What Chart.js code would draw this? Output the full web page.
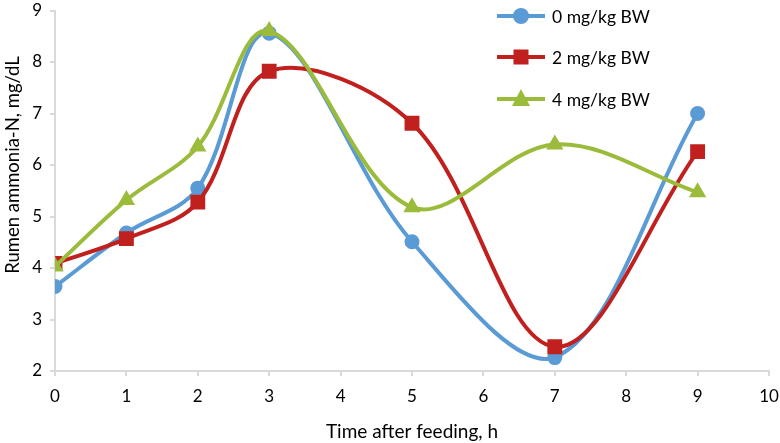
<!DOCTYPE html>
<html><head><meta charset="utf-8">
<script src="https://cdn.jsdelivr.net/npm/chart.js@4/dist/chart.umd.min.js"></script>
<style>html,body{margin:0;padding:0;background:#fff}#w{width:780px;height:443px}</style>
</head><body><div id="w"><canvas id="c" width="780" height="443"></canvas></div>
<script>
const hours = [0, 1, 2, 3, 5, 7, 9];
const dose0 = [3.64, 4.68, 5.55, 8.56, 4.51, 2.26, 7.0];
const dose2 = [4.09, 4.57, 5.28, 7.82, 6.81, 2.47, 6.26];
const dose4 = [4.03, 5.32, 6.36, 8.6, 5.18, 6.4, 5.47];
const seriesNames = ['0 mg/kg BW', '2 mg/kg BW', '4 mg/kg BW'];
const yTitle = 'Rumen ammonia-N, mg/dL';
const xTitle = 'Time after feeding, h';
const FONT = 'Lato';
const colors = ['#5B9BD5', '#C0201E', '#9BBB3B'];
const styles = ['circle', 'rect', 'triangle'];
const radii = [7.5, 10.5, 10];

function pts(ys){ return hours.map((h,i)=>({x:h,y:ys[i]})); }
const sets = [dose0, dose2, dose4].map((d,i)=>({
  label: seriesNames[i], data: pts(d), borderColor: colors[i], backgroundColor: colors[i],
  borderWidth: 4, pointStyle: styles[i], pointRadius: radii[i], pointBorderWidth: 0,
  pointBackgroundColor: colors[i], tension: 0.35, fill: false, order: 3 - i
}));

const legendPlugin = {
  id: 'customLegend',
  afterDraw(chart){
    const ctx = chart.ctx;
    const x0 = 497, x1 = 545, ys = [16, 57, 99];
    ctx.save();
    sets.forEach((s,i)=>{
      const y = ys[i];
      ctx.strokeStyle = s.borderColor; ctx.lineWidth = 4; ctx.lineCap='butt';
      ctx.beginPath(); ctx.moveTo(x0,y); ctx.lineTo(x1,y); ctx.stroke();
      ctx.fillStyle = s.borderColor;
      const cx = (x0+x1)/2;
      if (styles[i]==='circle'){ ctx.beginPath(); ctx.arc(cx,y,8,0,Math.PI*2); ctx.fill(); }
      else if (styles[i]==='rect'){ ctx.fillRect(cx-7.5,y-7.5,15,15); }
      else { ctx.beginPath(); ctx.moveTo(cx,y-10); ctx.lineTo(cx+9,y+7); ctx.lineTo(cx-9,y+7); ctx.closePath(); ctx.fill(); }
      ctx.fillStyle = '#000'; ctx.font = '17.5px ' + FONT; ctx.textBaseline='middle'; ctx.textAlign='left';
      ctx.fillText(s.label, 552, y+1);
    });
    ctx.translate(13, 165);
    ctx.rotate(-Math.PI/2);
    ctx.fillStyle = '#000'; ctx.font = '18.5px ' + FONT; ctx.textAlign='center'; ctx.textBaseline='middle';
    ctx.fillText(yTitle, 0, 0);
    ctx.restore();
  }
};

new Chart(document.getElementById('c'), {
  type: 'line',
  data: { datasets: sets },
  options: {
    responsive: false, animation: false,
    layout: { padding: { left: 0, right: 11, top: 8, bottom: 0 } },
    plugins: { legend: { display: false }, tooltip: { enabled: false } },
    scales: {
      x: {
        type: 'linear', min: 0, max: 10,
        afterFit(s){ s.height = 72; s.paddingLeft = 0; s.paddingRight = 0; },
        ticks: { stepSize: 1, color: '#000', font: { family: FONT, size: 17 }, padding: 10 },
        grid: { display: true, drawOnChartArea: false, drawTicks: true, tickLength: 5, color: '#D9D9D9', lineWidth: 2 },
        border: { color: '#D9D9D9', width: 2 },
        title: { display: true, text: xTitle, color: '#000', font: { family: FONT, size: 19 }, padding: { top: 8, bottom: 0 } }
      },
      y: {
        min: 2, max: 9,
        afterFit(s){ s.width = 55; s.paddingTop = 0; s.paddingBottom = 0; },
        ticks: { stepSize: 1, color: '#000', font: { family: FONT, size: 17 }, padding: 8 },
        grid: { display: true, drawOnChartArea: false, drawTicks: true, tickLength: 5, color: '#D9D9D9', lineWidth: 2 },
        border: { color: '#D9D9D9', width: 2 },
        title: { display: false }
      }
    }
  },
  plugins: [legendPlugin]
});
</script>
</body></html>
